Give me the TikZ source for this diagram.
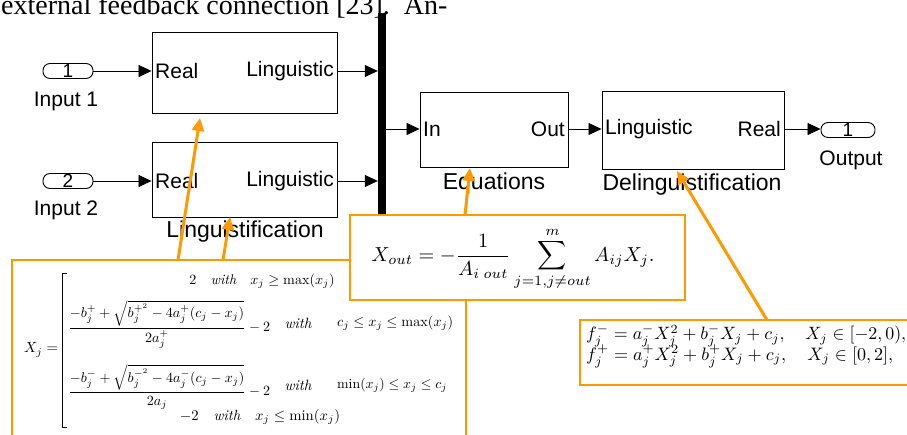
\documentclass[tikz,border=0pt]{standalone}
\usepackage{fontspec}
\usepackage{amsmath,amssymb}
\usepackage{graphicx}
\usetikzlibrary{arrows.meta}
\newfontfamily\simfont{Liberation Sans}
\newfontfamily\paperfont{Liberation Serif}
\definecolor{ora}{RGB}{255,153,0}
\newcommand\fitw[2]{\resizebox{#1}{!}{#2}}
\begin{document}
\begin{tikzpicture}[x=1pt,y=-1pt,
  sim/.style={font=\simfont\fontsize{21}{24}\selectfont, inner sep=0pt},
  simlab/.style={font=\simfont\fontsize{23}{26}\selectfont, inner sep=0pt},
  blk/.style={draw=black, line width=0.9pt, inner sep=0pt},
  oval/.style={draw=black, line width=0.9pt, rounded corners=7pt, minimum width=50pt, minimum height=15pt, inner sep=0pt, font=\simfont\fontsize{19}{19}\selectfont},
  sarr/.style={line width=0.8pt, -{Triangle[length=13pt,width=12pt]}},
  obox/.style={draw=ora, line width=2pt, fill=white},
  oarr/.style={draw=ora, line width=3pt, -{Triangle[length=13pt,width=12pt]}, ora},
  fm/.style={inner sep=0pt}]
\useasboundingbox (0,0) rectangle (907,435);
\clip (0,0) rectangle (907,435);
% header text
\node[font=\paperfont\fontsize{28}{30}\selectfont, anchor=base west, inner sep=0pt] (hdr) at (1,15) {external feedback connection [23].\hspace{14pt}An-};
% inputs
\node[oval] (in1) at (68,71) {1};
\node[sim] (in1l) at (66,101) {Input 1};
\node[oval] (in2) at (68,181) {2};
\node[sim] (in2l) at (66,210) {Input 2};
% linguistification boxes
\node[blk, minimum width=185pt, minimum height=81pt] (L1) at (244.5,72.5) {};
\node[blk, minimum width=185pt, minimum height=75pt] (L2) at (244.5,179.5) {};
\node[sim, anchor=west] (L1a) at (155,71) {Real};
\node[sim, anchor=east] (L1b) at (334,71) {Linguistic};
\node[sim, anchor=west] (L2a) at (155,181) {Real};
\node[sim, anchor=east] (L2b) at (334,181) {Linguistic};
\node[simlab] (Llab) at (245,232) {Linguistification};
% bar
\node[fill=black, minimum width=8pt, minimum height=203pt, inner sep=0pt] (bar) at (382,114.5) {};
% equations
\node[blk, minimum width=148pt, minimum height=75pt] (EQ) at (494,129.5) {};
\node[sim, anchor=west] (EQa) at (423,129) {In};
\node[sim, anchor=east] (EQb) at (565,129) {Out};
\node[simlab] (EQl) at (494,184) {Equations};
% delinguistification
\node[blk, minimum width=182pt, minimum height=78pt] (DL) at (693,130) {};
\node[sim, anchor=west] (DLa) at (605,129) {Linguistic};
\node[sim, anchor=east] (DLb) at (781,129) {Real};
\node[simlab] (DLl) at (692,185) {Delinguistification};
% output
\node[oval, minimum width=54pt] (out) at (848,130) {1};
\node[sim] (outl) at (851,160) {Output};
\coordinate (ly) at (0,129);
% black connectors
\draw[sarr] (in1.east) -- (in1 -| L1.west);
\draw[sarr] (in2.east) -- (in2 -| L2.west);
\draw[sarr] (in1 -| L1.east) -- (in1 -| bar.west);
\draw[sarr] (in2 -| L2.east) -- (in2 -| bar.west);
\draw[sarr] (ly -| bar.east) -- (ly -| EQ.west);
\draw[sarr] (ly -| EQ.east) -- (ly -| DL.west);
\draw[sarr] (ly -| DL.east) -- (ly -| out.west);
% orange boxes
\draw[obox] (12,260) rectangle (466,450);
\draw[obox] (350,215) rectangle (685,300);
\draw[obox] (580,320) rectangle (920,385);
% orange arrows
\coordinate (a1s) at (178,260); \coordinate (a1e) at (200,118);
\coordinate (a2s) at (223,260); \coordinate (a2e) at (230,217);
\coordinate (a3s) at (465,215); \coordinate (a3e) at (470,168);
\coordinate (a4s) at (767,320); \coordinate (a4e) at (677,171);
\draw[oarr] (a1s) -- (a1e);
\draw[oarr] (a2s) -- (a2e);
\draw[oarr] (a3s) -- (a3e);
\draw[oarr] (a4s) -- (a4e);
% formulas
\node[fm] (xo) at (513,259) {\fitw{283pt}{$\displaystyle X_{out} = -\frac{1}{A_{i\;out}}\sum_{j=1,j\neq out}^{m} A_{ij}X_j.$}};
\node[fm, anchor=west] (fj1) at (586,336) {\fitw{320pt}{$f_j^- = a_j^- X_j^2 + b_j^- X_j + c_j, \quad X_j \in [-2,0),$}};
\node[fm, anchor=west] (fj2) at (586,356) {\fitw{307pt}{$f_j^+ = a_j^+ X_j^2 + b_j^+ X_j + c_j, \quad X_j \in [0,2],$}};
\node[fm, anchor=west] (fx) at (24,350) {\fitw{34pt}{$X_j =$}};
\draw[line width=0.8pt] (67,273) -- (62,273) -- (62,427) -- (67,427);
\node[fm] (r1) at (262,281) {\fitw{145pt}{$2\quad\mathit{with}\quad x_j \ge \max(x_j)$}};
\node[fm, anchor=west] (r2) at (68,324) {\fitw{202pt}{$\dfrac{-b_j^+ + \sqrt{b_j^{+^2} - 4a_j^+(c_j - x_j)}}{2a_j^+} - 2$}};
\node[fm] (w2) at (298,323) {\fitw{27pt}{$\mathit{with}$}};
\node[fm, anchor=west] (c2) at (337,323) {\fitw{116pt}{$c_j \le x_j \le \max(x_j)$}};
\node[fm, anchor=west] (r3) at (68,387) {\fitw{202pt}{$\dfrac{-b_j^- + \sqrt{b_j^{-^2} - 4a_j^-(c_j - x_j)}}{2a_j} - 2$}};
\node[fm] (w3) at (298,385) {\fitw{27pt}{$\mathit{with}$}};
\node[fm, anchor=west] (c3) at (337,385) {\fitw{110pt}{$\min(x_j) \le x_j \le c_j$}};
\node[fm] (r4) at (260,417) {\fitw{160pt}{$-2\quad\mathit{with}\quad x_j \le \min(x_j)$}};
\end{tikzpicture}
\end{document}
